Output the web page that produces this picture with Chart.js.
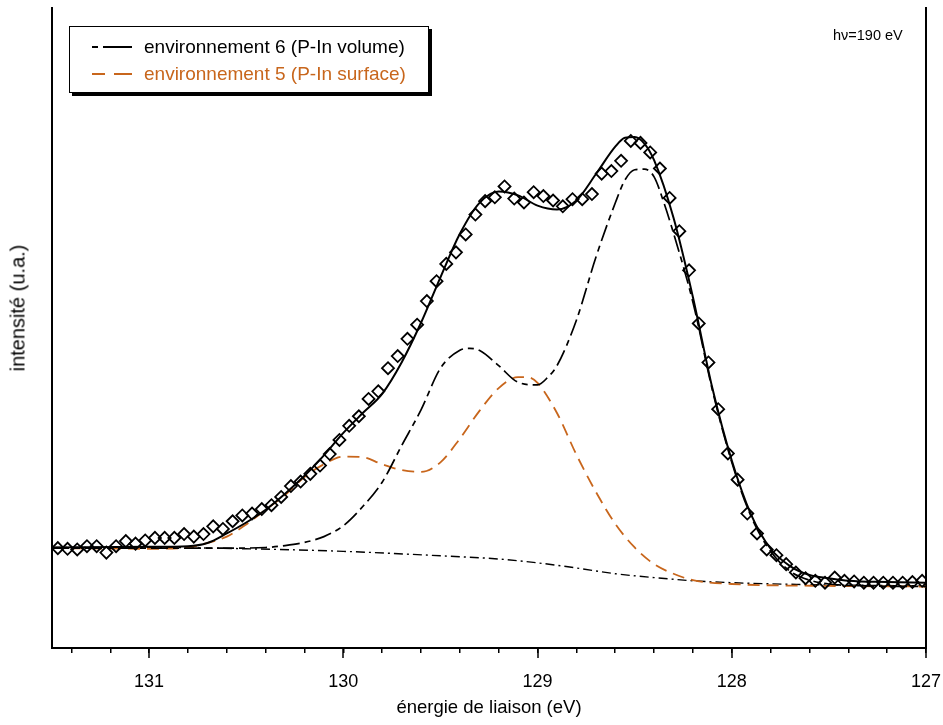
<!DOCTYPE html>
<html>
<head>
<meta charset="utf-8">
<script src="https://cdn.jsdelivr.net/npm/chart.js@4/dist/chart.umd.min.js"></script>
<style>
  html, body { margin: 0; padding: 0; background: #fff; }
  #wrap { position: relative; width: 943px; height: 725px; font-family: "Liberation Sans", Arial, sans-serif; color: #000; }
  #chart { position: absolute; left: 0; top: 0; }
  .legend { position: absolute; left: 69px; top: 26px; width: 358px; height: 65px; border: 1.5px solid #000; background: #fff; box-shadow: 3px 3px 0 #000; }
  .legend .row { position: absolute; left: 22px; height: 22px; display: flex; align-items: center; font-size: 19px; white-space: nowrap; }
  .legend svg { margin-right: 12px; }
  .hv { position: absolute; left: 833px; top: 27px; font-size: 14.5px; white-space: nowrap; }
  .ytitle { position: absolute; left: 18px; top: 308px; transform: translate(-50%, -50%) rotate(-90deg); font-size: 20px; white-space: nowrap; }
</style>
</head>
<body>
<div id="wrap">
  <canvas id="chart" width="943" height="725"></canvas>
  <div class="legend">
    <div class="row" style="top:9px">
      <svg width="40" height="10"><line x1="0" y1="5" x2="40" y2="5" stroke="#000" stroke-width="2" stroke-dasharray="6,5,29,0"/></svg>
      <span>environnement 6 (P-In volume)</span>
    </div>
    <div class="row" style="top:36px; color:#c8661c">
      <svg width="40" height="10"><line x1="0" y1="5" x2="40" y2="5" stroke="#c8661c" stroke-width="2" stroke-dasharray="13,9,18,0"/></svg>
      <span>environnement 5 (P-In surface)</span>
    </div>
  </div>
  <div class="hv">hν=190 eV</div>
  <div class="ytitle">intensité (u.a.)</div>
</div>
<script>
  // données (énergie en eV, intensité en u.a.)
  const expEnergy = [
    131.47, 131.42, 131.37, 131.32, 131.27, 131.22, 131.17, 131.12, 131.07, 131.02,
    130.97, 130.92, 130.87, 130.82, 130.77, 130.72, 130.67, 130.62, 130.57, 130.52,
    130.47, 130.42, 130.37, 130.32, 130.27, 130.22, 130.17, 130.12, 130.07, 130.02,
    129.97, 129.92, 129.87, 129.82, 129.77, 129.72, 129.67, 129.62, 129.57, 129.52,
    129.47, 129.42, 129.37, 129.32, 129.27, 129.22, 129.17, 129.12, 129.07, 129.02,
    128.97, 128.92, 128.87, 128.82, 128.77, 128.72, 128.67, 128.62, 128.57, 128.52,
    128.47, 128.42, 128.37, 128.32, 128.27, 128.22, 128.17, 128.12, 128.07, 128.02,
    127.97, 127.92, 127.87, 127.82, 127.77, 127.72, 127.67, 127.62, 127.57, 127.52,
    127.47, 127.42, 127.37, 127.32, 127.27, 127.22, 127.17, 127.12, 127.07, 127.02
  ];
  const expIntensity = [
    15.6, 15.5, 15.4, 15.9, 15.9, 14.9, 15.9, 16.7, 16.3, 16.8,
    17.2, 17.2, 17.2, 17.8, 17.4, 17.8, 19.0, 18.6, 19.8, 20.7,
    21.0, 21.7, 22.3, 23.6, 25.3, 26.0, 27.2, 28.5, 30.3, 32.5,
    34.7, 36.2, 38.9, 40.1, 43.7, 45.6, 48.3, 50.5, 54.2, 57.3,
    60.0, 61.8, 64.6, 67.7, 69.8, 70.4, 72.1, 70.2, 69.6, 71.2,
    70.6, 69.9, 69.0, 70.1, 70.1, 70.9, 74.1, 74.5, 76.1, 79.2,
    78.9, 77.4, 74.9, 70.3, 65.1, 59.0, 50.7, 44.6, 37.3, 30.4,
    26.3, 21.0, 17.9, 15.4, 14.5, 13.1, 11.8, 10.9, 10.5, 10.2,
    11.0, 10.5, 10.4, 10.2, 10.2, 10.2, 10.2, 10.2, 10.3, 10.5
  ];

  const fitEnergy = [131.5, 131.0, 130.8, 130.7, 130.6, 130.5, 130.4, 130.3, 130.2, 130.1,
    130.0, 129.9, 129.8, 129.7, 129.6, 129.5, 129.4, 129.3, 129.2, 129.1,
    129.0, 128.9, 128.8, 128.7, 128.6, 128.55, 128.5, 128.45, 128.4, 128.3,
    128.2, 128.1, 128.0, 127.9, 127.8, 127.7, 127.6, 127.5, 127.4, 127.2, 127.0];
  const fitIntensity = [15.7, 15.8, 15.9, 16.4, 17.9, 19.6, 21.6, 24.1, 26.9, 30.1,
    33.6, 36.7, 39.7, 44.6, 50.8, 57.9, 64.7, 69.5, 71.3, 70.7,
    69.1, 68.5, 69.9, 74.0, 78.3, 79.7, 79.8, 78.8, 76.2, 67.2,
    54.8, 40.6, 29.3, 20.8, 15.5, 12.8, 11.4, 10.9, 10.5, 10.3, 10.2];

  const volEnergy = [131.5, 130.6, 130.4, 130.3, 130.2, 130.1, 130.0, 129.9, 129.8, 129.7,
    129.6, 129.5, 129.4, 129.35, 129.3, 129.2, 129.1, 129.0, 128.95, 128.9,
    128.8, 128.7, 128.6, 128.55, 128.5, 128.45, 128.4, 128.35, 128.3, 128.2,
    128.1, 128.0, 127.9, 127.8, 127.7, 127.6, 127.5, 127.3, 127.0];
  const volIntensity = [15.6, 15.6, 15.7, 16.0, 16.5, 17.4, 19.1, 22.1, 25.9, 31.6,
    37.2, 43.7, 46.5, 46.8, 46.5, 44.1, 41.5, 41.1, 42.2, 44.1,
    51.2, 61.0, 69.5, 73.1, 74.7, 74.8, 73.6, 69.6, 64.8, 54.0,
    40.3, 29.0, 20.5, 15.1, 12.0, 10.6, 10.0, 9.7, 9.6];

  const surfEnergy = [131.5, 131.0, 130.8, 130.7, 130.6, 130.5, 130.4, 130.3, 130.2, 130.1,
    130.0, 129.9, 129.8, 129.7, 129.6, 129.5, 129.4, 129.3, 129.2, 129.1,
    129.05, 129.0, 128.9, 128.8, 128.7, 128.6, 128.5, 128.4, 128.3, 128.2,
    128.0, 127.5, 127.0];
  const surfIntensity = [15.6, 15.5, 15.7, 16.4, 17.4, 19.3, 21.6, 23.9, 26.7, 28.7,
    29.9, 29.8, 28.7, 27.8, 27.5, 29.0, 32.7, 37.0, 40.6, 42.3,
    42.3, 41.4, 36.7, 30.2, 24.4, 19.4, 15.7, 13.1, 11.6, 10.6,
    10.0, 9.7, 9.6];

  const bgEnergy = [131.5, 131.0, 130.5, 130.0, 129.5, 129.2, 129.0, 128.8, 128.6, 128.4, 128.2, 128.0, 127.6, 127.0];
  const bgIntensity = [15.7, 15.7, 15.5, 15.1, 14.4, 13.9, 13.3, 12.5, 11.6, 11.0, 10.5, 10.2, 9.9, 9.7];

  const majorTicks = [127, 128, 129, 130, 131];
  const minorTicks = [127.2, 127.4, 127.6, 127.8, 128.2, 128.4, 128.6, 128.8,
    129.2, 129.4, 129.6, 129.8, 130.2, 130.4, 130.6, 130.8, 131.2, 131.4];

  const FONT = '"Liberation Sans", Arial, sans-serif';
  const ORANGE = '#c8661c';

  const toPoints = (xs, ys) => xs.map((x, i) => ({ x: x, y: ys[i] }));

  // petits traits des graduations principales, deux fois plus longs
  const majorTickMarks = {
    id: 'majorTickMarks',
    afterDraw(chart) {
      const { ctx, chartArea, scales } = chart;
      ctx.save();
      ctx.strokeStyle = '#000';
      ctx.lineWidth = 1.5;
      majorTicks.forEach(v => {
        const px = Math.round(scales.x.getPixelForValue(v));
        ctx.beginPath();
        ctx.moveTo(px, chartArea.bottom);
        ctx.lineTo(px, chartArea.bottom + 10);
        ctx.stroke();
      });
      ctx.restore();
    }
  };

  const lineBase = { pointRadius: 0, fill: false, cubicInterpolationMode: 'monotone' };

  new Chart(document.getElementById('chart').getContext('2d'), {
    type: 'line',
    data: {
      datasets: [
        {
          label: 'expérience',
          data: toPoints(expEnergy, expIntensity),
          showLine: false,
          pointStyle: 'rectRot',
          pointRadius: 6,
          pointBorderWidth: 1.8,
          pointBorderColor: '#000',
          pointBackgroundColor: 'rgba(0,0,0,0)'
        },
        Object.assign({
          label: 'ajustement',
          data: toPoints(fitEnergy, fitIntensity),
          borderColor: '#000',
          borderWidth: 2
        }, lineBase),
        Object.assign({
          label: 'environnement 6 (P-In volume)',
          data: toPoints(volEnergy, volIntensity),
          borderColor: '#000',
          borderWidth: 1.7,
          borderDash: [17, 5, 6, 5]
        }, lineBase),
        Object.assign({
          label: 'environnement 5 (P-In surface)',
          data: toPoints(surfEnergy, surfIntensity),
          borderColor: ORANGE,
          borderWidth: 1.8,
          borderDash: [12, 7]
        }, lineBase),
        Object.assign({
          label: 'fond',
          data: toPoints(bgEnergy, bgIntensity),
          borderColor: '#000',
          borderWidth: 1.4,
          borderDash: [9, 4, 2, 4]
        }, lineBase)
      ]
    },
    options: {
      responsive: false,
      animation: false,
      layout: { padding: 0 },
      plugins: {
        legend: { display: false },
        tooltip: { enabled: false }
      },
      scales: {
        x: {
          type: 'linear',
          position: 'bottom',
          reverse: true,
          min: 127,
          max: 131.5,
          afterBuildTicks: s => { s.ticks = majorTicks.concat(minorTicks).sort((a, b) => a - b).map(v => ({ value: v })); },
          afterFit: s => { s.height = 77; },
          grid: { display: true, drawOnChartArea: false, drawTicks: true, tickLength: 5, color: '#000', lineWidth: 1.5 },
          border: { display: true, color: '#000', width: 2 },
          ticks: {
            autoSkip: false,
            maxRotation: 0,
            padding: 18,
            color: '#000',
            font: { family: FONT, size: 18 },
            callback: v => majorTicks.includes(v) ? String(v) : ''
          },
          title: {
            display: true,
            text: 'énergie de liaison (eV)',
            color: '#000',
            font: { family: FONT, size: 18.5 },
            padding: { top: 0, bottom: 6 }
          }
        },
        y: {
          min: 0,
          max: 100,
          afterFit: s => { s.width = 52; },
          grid: { display: false },
          border: { display: true, color: '#000', width: 2 },
          ticks: { display: false }
        },
        y2: {
          position: 'right',
          min: 0,
          max: 100,
          afterFit: s => { s.width = 17; },
          grid: { display: false },
          border: { display: true, color: '#000', width: 2 },
          ticks: { display: false }
        }
      }
    },
    plugins: [majorTickMarks]
  });
</script>
</body>
</html>
